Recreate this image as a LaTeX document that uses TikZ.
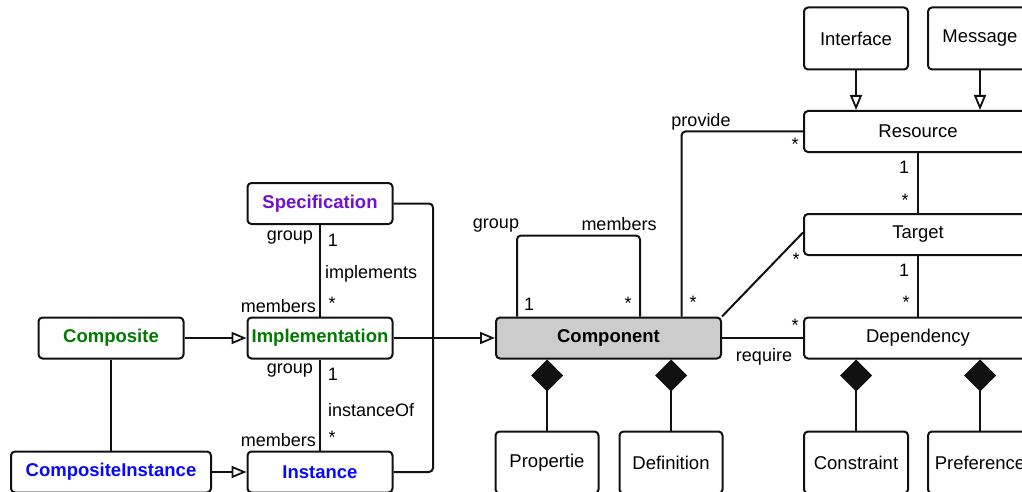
\documentclass[tikz,border=0pt]{standalone}
\usepackage{fontspec}
\setmainfont{Liberation Sans}
\usetikzlibrary{arrows.meta}
\definecolor{specpurple}{HTML}{7010D0}
\definecolor{implgreen}{HTML}{007A00}
\definecolor{instblue}{HTML}{0808FF}
\definecolor{compgray}{HTML}{CCCCCC}
\definecolor{linec}{HTML}{111111}
\tikzset{
  box/.style={draw=linec, line width=2pt, rounded corners=4pt, inner sep=0pt,
    minimum height=41pt, font=\fontsize{18.5}{21}\selectfont, text=black},
  tall/.style={minimum height=62pt},
  boldbox/.style={box, font=\fontsize{18.5}{21}\selectfont\bfseries},
  conn/.style={draw=linec, line width=2pt},
  gen/.style={conn, -{Triangle[open, length=15pt, width=12pt, line width=1.8pt]}},
  comp/.style={conn, -{Diamond[length=32pt, width=32pt]}},
  lbl/.style={font=\fontsize{18}{21}\selectfont, inner sep=0pt, text=black},
}
\begin{document}
\begin{tikzpicture}[x=1pt, y=-1pt]
\useasboundingbox (0,0) rectangle (1022,492);
\clip (0,0) rectangle (1022,492);
\fill[white] (0,0) rectangle (1022,492);

% nodes
\node[boldbox, text=specpurple, minimum width=145pt] (spec) at (320,203.5) {Specification};
\node[boldbox, text=implgreen, minimum width=145pt] (impl) at (320,338) {Implementation};
\node[boldbox, text=instblue, minimum width=145pt] (inst) at (320,472) {Instance};
\node[boldbox, text=implgreen, minimum width=145pt] (compo) at (111,338) {Composite};
\node[boldbox, text=instblue, minimum width=200pt] (cinst) at (111,472) {CompositeInstance};
\node[boldbox, fill=compgray, minimum width=225pt] (component) at (608.5,338) {Component};
\node[box, tall, minimum width=103pt] (prop) at (547,462.5) {Propertie};
\node[box, tall, minimum width=103pt] (defn) at (671,462.5) {Definition};
\node[box, minimum width=228pt] (resource) at (918,131.5) {Resource};
\node[box, tall, minimum width=104pt] (interface) at (856,38.5) {Interface};
\node[box, tall, minimum width=104pt] (message) at (980,38.5) {Message};
\node[box, minimum width=228pt] (target) at (918,234.5) {Target};
\node[box, minimum width=228pt] (dep) at (918,338) {Dependency};
\node[box, tall, minimum width=104pt] (constraint) at (856,462.5) {Constraint};
\node[box, tall, minimum width=104pt] (pref) at (980,462.5) {Preference};

% left part
\draw[conn] (spec) -- (impl);
\draw[conn] (impl) -- (inst);
\draw[conn, rounded corners=4pt] (spec.east) -- (433,203.5) |- (inst.east);
\draw[gen] (compo) -- (impl);
\draw[gen] (cinst) -- (inst);
\draw[conn] (compo.south) -- (compo.south |- cinst.north);
\draw[gen] (impl) -- (component);

\node[lbl, anchor=east] at (313,238) {group};
\node[lbl] at (333,240) {1};
\node[lbl, anchor=west] at (325,274) {implements};
\node[lbl, anchor=east] at (316,306) {members};
\node[lbl] at (332,303) {*};
\node[lbl, anchor=east] at (313,371) {group};
\node[lbl] at (333,374) {1};
\node[lbl, anchor=west] at (328,410) {instanceOf};
\node[lbl, anchor=east] at (316,440) {members};
\node[lbl] at (332,437) {*};

% component self loop
\draw[conn, rounded corners=4pt] ([xshift=-91.5pt]component.north) -- (517,235.5) -- (640,235.5) -- ([xshift=31.5pt]component.north);
\node[lbl] at (496,226) {group};
\node[lbl] at (619,224) {members};
\node[lbl] at (529,304) {1};
\node[lbl] at (628,303) {*};

% composition diamonds
\draw[comp] (prop.north) -- (prop.north |- component.south);
\draw[comp] (defn.north) -- (defn.north |- component.south);
\draw[comp] (constraint.north) -- (constraint.north |- dep.south);
\draw[comp] (pref.north) -- (pref.north |- dep.south);

% right part
\draw[gen] (interface.south) -- (interface.south |- resource.north);
\draw[gen] (message.south) -- (message.south |- resource.north);
\draw[conn] (resource) -- (target);
\draw[conn] (target) -- (dep);
\draw[conn, rounded corners=4pt] (resource.west) -| ([xshift=73pt]component.north);
\draw[conn] (component.north east) -- ([yshift=2pt]target.west);
\draw[conn] (component.east) -- (dep.west);

\node[lbl] at (701,122) {provide};
\node[lbl] at (795,144) {*};
\node[lbl] at (693,302) {*};
\node[lbl] at (904,167) {1};
\node[lbl] at (905,200) {*};
\node[lbl] at (904,270) {1};
\node[lbl] at (906,302) {*};
\node[lbl] at (796,259) {*};
\node[lbl] at (795,325) {*};
\node[lbl] at (764,357) {require};
\end{tikzpicture}
\end{document}
